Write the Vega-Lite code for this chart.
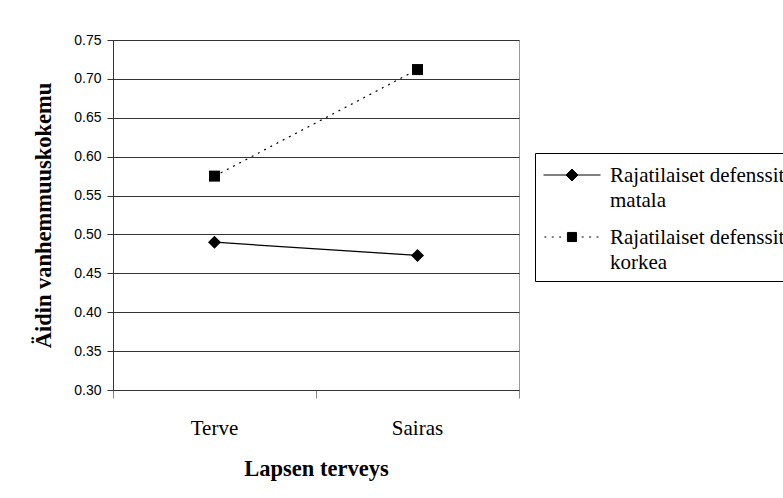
{
  "$schema": "https://vega.github.io/schema/vega-lite/v6.json",
  "width": 406,
  "height": 350,
  "autosize": {"type": "none"},
  "padding": {"left": 113, "top": 40, "right": 264, "bottom": 108},
  "background": "white",
  "config": {
    "view": {"stroke": "#999999", "strokeWidth": 1},
    "font": "Liberation Serif",
    "legend": {"labelFont": "Liberation Serif"}
  },
  "data": {
    "values": [
      {"terveys": "Terve", "ryhma": "matala", "arvo": 0.490},
      {"terveys": "Sairas", "ryhma": "matala", "arvo": 0.473},
      {"terveys": "Terve", "ryhma": "korkea", "arvo": 0.575},
      {"terveys": "Sairas", "ryhma": "korkea", "arvo": 0.712}
    ]
  },
  "encoding": {
    "x": {
      "field": "terveys",
      "type": "nominal",
      "sort": ["Terve", "Sairas"],
      "scale": {"type": "band", "paddingInner": 0, "paddingOuter": 0},
      "axis": {
        "title": "Lapsen terveys",
        "titleFont": "Liberation Serif",
        "titleFontSize": 22.5,
        "titleFontWeight": "bold",
        "titleColor": "black",
        "titlePadding": 19,
        "labelFont": "Liberation Serif",
        "labelFontSize": 21,
        "labelColor": "black",
        "labelAngle": 0,
        "labelPadding": 19,
        "tickSize": 8,
        "tickColor": "#888888",
        "domainColor": "#333333",
        "bandPosition": 1,
        "tickExtra": true,
        "grid": false
      }
    },
    "y": {
      "field": "arvo",
      "type": "quantitative",
      "scale": {"domain": [0.3, 0.75], "nice": false, "zero": false},
      "axis": {
        "values": [0.3, 0.35, 0.4, 0.45, 0.5, 0.55, 0.6, 0.65, 0.7, 0.75],
        "format": ".2f",
        "labelFont": "Liberation Sans",
        "labelFontSize": 14,
        "labelColor": "black",
        "labelPadding": 6,
        "tickSize": 6,
        "tickColor": "#333333",
        "domainColor": "#333333",
        "grid": true,
        "gridColor": "#333333",
        "gridOpacity": 1,
        "title": "Äidin vanhemmuuskokemu",
        "titleFont": "Liberation Serif",
        "titleFontSize": 22.5,
        "titleFontWeight": "bold",
        "titleColor": "black",
        "titlePadding": 18
      }
    },
    "color": {
      "field": "ryhma",
      "type": "nominal",
      "scale": {"domain": ["matala", "korkea"], "range": ["black", "black"]},
      "legend": {
        "title": null,
        "orient": "none",
        "legendX": 422,
        "legendY": 113,
        "padding": 8,
        "strokeColor": "black",
        "fillColor": "white",
        "symbolSize": 3249,
        "symbolStrokeWidth": 1,
        "symbolStrokeColor": "black",
        "symbolFillColor": "black",
        "symbolOpacity": 1,
        "clipHeight": 28,
        "labelFont": "Liberation Serif",
        "labelFontSize": 21,
        "labelColor": "black",
        "labelLimit": 0,
        "labelOffset": 9,
        "labelBaseline": "alphabetic",
        "rowPadding": 12,
        "labelExpr": "['Rajatilaiset defenssit', datum.label]",
        "encode": {
          "symbols": {
            "update": {
              "shape": {"signal": "datum.value === 'matala' ? 'M-1,0H1M-0.21,0L0,-0.21L0.21,0L0,0.21Z' : 'M-0.97,0h0.07M-0.71,0h0.07M-0.45,0h0.07M-0.16,-0.16H0.16V0.16H-0.16ZM0.34,0h0.07M0.6,0h0.07M0.86,0h0.07'"},
              "stroke": {"value": "black"},
              "fill": {"value": "black"},
              "strokeWidth": {"value": 1}
            }
          },
          "labels": {
            "update": {
              "dy": {"value": 7},
              "lineHeight": {"value": 25},
              "font": {"value": "Liberation Serif"}
            }
          }
        }
      }
    }
  },
  "layer": [
    {
      "transform": [{"filter": "datum.ryhma === 'matala'"}],
      "mark": {"type": "line", "strokeWidth": 1.2},
      "encoding": {}
    },
    {
      "transform": [{"filter": "datum.ryhma === 'korkea'"}],
      "mark": {"type": "line", "strokeWidth": 1.2, "strokeDash": [2, 5]},
      "encoding": {}
    },
    {
      "transform": [{"filter": "datum.ryhma === 'matala'"}],
      "mark": {"type": "point", "shape": "diamond", "filled": true, "opacity": 1, "size": 170},
      "encoding": {}
    },
    {
      "transform": [{"filter": "datum.ryhma === 'korkea'"}],
      "mark": {"type": "point", "shape": "square", "filled": true, "opacity": 1, "size": 121},
      "encoding": {}
    }
  ]
}
